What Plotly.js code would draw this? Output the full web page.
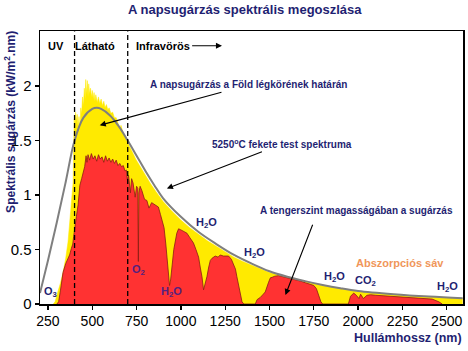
<!DOCTYPE html>
<html>
<head>
<meta charset="utf-8">
<script src="https://cdn.plot.ly/plotly-3.0.1.min.js"></script>
<style>html,body{margin:0;padding:0;background:#fff;}#chart{width:468px;height:351px;}</style>
</head>
<body>
<div id="chart"></div>
<script>
// Top of atmosphere spectrum (yellow)
const toaWavelength = [280,290,300,310,320,335,350,363,372,382,388,392,395,398,402,406,410,415,420,425,430,435,440,445,450,455,460,463,467,472,476,480,485,490,495,500,505,510,515,520,528,535,542,550,558,565,572,580,588,595,605,615,625,635,645,656,662,672,685,695,710,725,745,770,800,830,860,900,950,1000,1050,1100,1150,1200,1250,1300,1350,1400,1450,1500,1550,1600,1650,1700,1750,1800,1850,1900,1950,2000,2100,2200,2300,2400,2500,2590];
const toaValues = [0,0.02,0.08,0.13,0.19,0.29,0.42,0.57,0.72,0.91,1.02,1.12,1.45,1.70,1.62,1.76,1.68,1.74,1.62,1.72,1.58,1.80,1.74,1.90,1.82,1.98,1.88,2.06,1.92,2.05,1.90,2.02,1.93,1.98,1.90,1.96,1.88,1.94,1.86,1.92,1.85,1.90,1.84,1.88,1.82,1.86,1.80,1.83,1.78,1.80,1.75,1.76,1.71,1.71,1.66,1.60,1.64,1.58,1.53,1.50,1.45,1.40,1.33,1.26,1.18,1.10,1.03,0.94,0.85,0.77,0.70,0.64,0.58,0.53,0.48,0.43,0.39,0.355,0.32,0.29,0.265,0.245,0.225,0.205,0.19,0.17,0.155,0.14,0.13,0.115,0.10,0.087,0.077,0.068,0.06,0.053];

// Sea level spectrum (red)
const seaWavelength = [300,310,320,335,350,372,382,390,395,400,410,420,430,440,450,457,465,470,476,485,495,505,515,525,535,545,555,565,575,585,595,605,615,625,635,645,655,665,675,685,692,698,705,715,722,730,742,750,757,760,763,770,780,795,808,820,835,845,860,873,885,895,905,915,925,936,942,949,960,977,987,1000,1034,1050,1071,1085,1100,1110,1119,1128,1137,1147,1156,1166,1176,1194,1210,1222,1240,1250,1269,1285,1297,1308,1316,1325,1335,1345,1355,1420,1430,1448,1465,1476,1495,1505,1515,1530,1552,1580,1600,1620,1646,1675,1703,1730,1750,1765,1778,1790,1800,1945,1957,1975,1990,2005,2014,2030,2050,2070,2100,2150,2200,2268,2350,2418,2456,2475];
const seaValues = [0,0.02,0.12,0.29,0.37,0.45,0.51,0.55,0.62,0.70,0.80,0.91,1.09,1.15,1.22,1.26,1.36,1.30,1.37,1.32,1.38,1.33,1.36,1.31,1.37,1.33,1.35,1.30,1.36,1.31,1.34,1.30,1.33,1.29,1.32,1.27,1.29,1.26,1.27,1.22,1.23,1.14,1.18,1.02,1.15,1.11,0.98,1.08,1.06,0.39,1.02,1.08,1.04,0.96,0.95,0.88,0.93,0.92,0.90,0.89,0.82,0.76,0.70,0.55,0.35,0.17,0.22,0.34,0.50,0.65,0.69,0.68,0.65,0.61,0.56,0.50,0.43,0.33,0.25,0.13,0.18,0.25,0.33,0.40,0.42,0.44,0.43,0.45,0.44,0.44,0.44,0.41,0.37,0.32,0.25,0.17,0.10,0.02,0,0,0.04,0.06,0.09,0.11,0.20,0.24,0.245,0.255,0.26,0.25,0.24,0.23,0.22,0.21,0.195,0.18,0.17,0.14,0.07,0.02,0,0,0.07,0.10,0.08,0.05,0.09,0.05,0.08,0.085,0.08,0.075,0.07,0.065,0.055,0.045,0.02,0];

// 5250 C black body curve (grey)
const bbWavelength = [205,250,300,350,400,450,500,525,550,600,650,700,750,800,850,900,1000,1100,1200,1300,1400,1500,1600,1700,1800,1900,2000,2200,2400,2590];
const bbValues = [0.10,0.40,0.75,1.12,1.50,1.71,1.79,1.80,1.79,1.73,1.63,1.50,1.36,1.22,1.09,0.97,0.80,0.66,0.55,0.45,0.37,0.30,0.25,0.21,0.175,0.145,0.12,0.09,0.068,0.052];

// Region borders (UV / visible / infrared)
const regionBounds = [400, 700];

const xTicks = [250,500,750,1000,1250,1500,1750,2000,2250,2500];
const xTickLabels = ['250','500','750','1000','1250','1500','1750','2000','2250','2500'];
const yTicks = [0,0.5,1,1.5,2];
const yTickLabels = ['0','0.5','1','1.5','2'];

const NAVY = '#1f1f72';
const PURPLE = '#55217f';
const FONT = 'Arial, "Liberation Sans", sans-serif';

const traces = [
  {x: toaWavelength, y: toaValues, type: 'scatter', mode: 'lines', fill: 'tozeroy',
   fillcolor: '#ffea00', line: {color: '#ffea00', width: 0.5}, hoverinfo: 'skip'},
  {x: seaWavelength, y: seaValues, type: 'scatter', mode: 'lines', fill: 'tozeroy',
   fillcolor: '#ff3232', line: {color: '#8a1c14', width: 0.8}, hoverinfo: 'skip'},
  {x: bbWavelength, y: bbValues, type: 'scatter', mode: 'lines', line: {color: '#7f7f7f', width: 2, shape: 'spline'}, hoverinfo: 'skip'}
];
regionBounds.forEach(b => traces.push({x: [b, b], y: [0, 2.5], type: 'scatter', mode: 'lines',
  line: {color: '#000', width: 1.3, dash: '5px,3px'}, hoverinfo: 'skip'}));

function lbl(text, x, y, size, color, extra) {
  return Object.assign({text: text, x: x, y: y, xref: 'x', yref: 'y', showarrow: false,
    font: {family: FONT, size: size, color: color, weight: 'bold'}, xanchor: 'center', yanchor: 'middle'}, extra || {});
}
// label with an arrow: text centred at (tx,ty), arrow head at (hx,hy)
function arrowLbl(text, hx, hy, tx, ty, size, color) {
  return {text: text, x: hx, y: hy, ax: tx, ay: ty, xref: 'x', yref: 'y', axref: 'x', ayref: 'y',
    showarrow: true, arrowhead: 2, arrowsize: 1.1, arrowwidth: 1.1, arrowcolor: '#000', standoff: 0, startstandoff: 1,
    font: {family: FONT, size: size, color: color, weight: 'bold'}};
}

const annotations = [
  lbl('UV', 295, 2.37, 11, '#000'),
  lbl('Látható', 518, 2.37, 11, '#000'),
  arrowLbl('Infravörös', 1232, 2.37, 897, 2.37, 11, '#000'),
  arrowLbl('A napsugárzás a Föld légkörének határán', 542, 1.64, 1380, 2.01, 10, NAVY),
  arrowLbl('5250<sup>o</sup>C fekete test spektruma', 921, 1.06, 1572, 1.47, 10, NAVY),
  lbl('A tengerszint magasságában a sugárzás', 1991, 0.862, 10, NAVY),
  {text: ' ', x: 1590, y: 0.083, ax: 1750, ay: 0.755, xref: 'x', yref: 'y', axref: 'x', ayref: 'y',
   showarrow: true, arrowhead: 2, arrowsize: 1.1, arrowwidth: 1.1, arrowcolor: '#000', font: {size: 2}},
  lbl('H<sub>2</sub>O', 1143, 0.74, 11, NAVY),
  lbl('H<sub>2</sub>O', 1414, 0.47, 11, NAVY),
  lbl('H<sub>2</sub>O', 945, 0.11, 11, PURPLE),
  lbl('O<sub>2</sub>', 759, 0.31, 11, PURPLE),
  lbl('O<sub>3</sub>', 267, 0.11, 11, NAVY),
  lbl('H<sub>2</sub>O', 1867, 0.25, 11, NAVY),
  lbl('CO<sub>2</sub>', 2042, 0.21, 11, NAVY),
  lbl('H<sub>2</sub>O', 2506, 0.16, 11, NAVY),
  lbl('Abszorpciós sáv', 2234, 0.376, 11, '#f0965a'),
  {text: 'Spektrális sugárzás (kW/m<sup>2</sup>.nm)', xref: 'paper', yref: 'paper', x: -0.071, y: 0.667,
   textangle: -90, showarrow: false, xanchor: 'center', yanchor: 'middle',
   font: {family: FONT, size: 12, color: NAVY, weight: 'bold'}},
  {text: 'Hullámhossz (nm)', xref: 'paper', yref: 'paper', x: 0.870, y: -0.1245,
   showarrow: false, xanchor: 'center', yanchor: 'middle',
   font: {family: FONT, size: 12.5, color: NAVY, weight: 'bold'}}
];

const layout = {
  width: 468, height: 351,
  margin: {l: 40, r: 5, t: 31, b: 47, pad: 0},
  paper_bgcolor: '#fff', plot_bgcolor: '#fff',
  showlegend: false,
  title: {text: 'A napsugárzás spektrális megoszlása', x: 0.523, y: 0.972, xref: 'container', yref: 'container',
    xanchor: 'center', yanchor: 'middle', font: {family: FONT, size: 13, color: NAVY, weight: 'bold'}},
  xaxis: {range: [205, 2592], tickvals: xTicks, ticktext: xTickLabels, ticks: 'outside', ticklen: 4, tickwidth: 1.3,
    tickcolor: '#000', showgrid: false, zeroline: false, showline: true, linecolor: '#000', linewidth: 1.5, mirror: true,
    tickfont: {family: FONT, size: 14, color: '#000'}, fixedrange: true},
  yaxis: {range: [0, 2.505], tickvals: yTicks, ticktext: yTickLabels, ticks: 'outside', ticklen: 4, tickwidth: 1.3,
    tickcolor: '#000', showgrid: false, zeroline: false, showline: true, linecolor: '#000', linewidth: 1.5, mirror: true,
    tickfont: {family: FONT, size: 15, color: '#000'}, fixedrange: true},
  annotations: annotations
};

Plotly.newPlot('chart', traces, layout, {staticPlot: true, displayModeBar: false});
</script>
</body>
</html>
